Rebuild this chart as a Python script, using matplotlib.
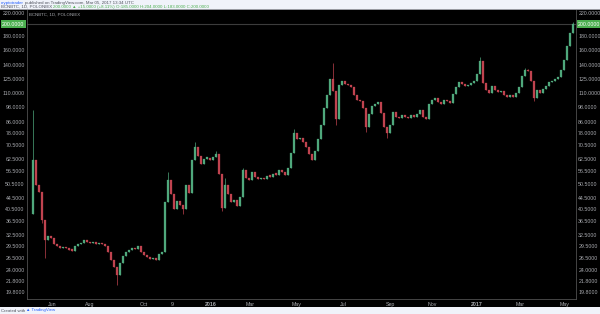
import matplotlib
matplotlib.use("Agg")
import matplotlib.pyplot as plt
from matplotlib.patches import Rectangle
from matplotlib.ticker import NullLocator

plt.rcParams["font.family"] = ["Liberation Sans", "DejaVu Sans"]

# daily-ish closes, one per candle
first_open = 39.0
closes = [
    62, 50, 47, 37, 31, 32, 31.5, 30, 29.5, 29,
    29.3, 29, 28.5, 28.3, 29.5, 30, 30.2, 31, 30.5, 30.2,
    30.4, 30, 30.3, 30, 29.5, 28, 26, 24.5, 23, 25.5,
    27, 28, 28.5, 29, 28.6, 29.5, 28, 27.3, 26.7, 26.3,
    26.6, 26.2, 27.5, 28, 43, 52, 46, 40.5, 43.5, 42,
    40.5, 50, 46.5, 62, 69, 64, 60, 62.5, 63, 62,
    63.5, 65, 55, 41, 50, 46, 43, 44, 41.5, 45,
    57, 53, 52, 56, 53.5, 52.5, 53, 52.5, 54, 53.5,
    55, 54.5, 57, 56, 54.5, 58, 66, 78, 74, 75,
    72, 69, 65, 62, 67, 74, 84, 97, 108, 125,
    112, 88, 118, 122, 119, 118, 116, 108, 104, 103,
    97, 82, 92, 99, 100, 102, 93, 82, 78, 84,
    94, 90, 89, 91, 90, 89, 91, 90, 92, 95,
    90, 88, 100, 104, 106, 102, 100, 104, 103, 101,
    109, 116, 121, 119, 117, 118, 120, 122, 130, 145,
    120, 113, 110, 117, 113, 111, 112, 108, 107, 108,
    107, 110, 116, 128, 134, 133, 122, 106, 113, 110,
    114, 117, 121, 122, 125, 127, 134, 147, 165, 185,
    200,
]
# wick extremes that stick out past the bodies
high_spikes = {0: 95, 1: 57, 45: 56, 54: 72, 61: 67, 64: 53, 70: 58, 87: 81,
               100: 143, 149: 150, 164: 137, 165: 136, 180: 204}
low_spikes = {3: 36, 4: 26.5, 28: 21, 50: 39, 63: 40, 101: 84, 111: 79,
              118: 75, 167: 103}

last_price = 200.0
ytick_vals = [220, 180, 160, 140, 125, 110, 98, 86, 78, 70.5, 62.5, 56.5,
              50.5, 44.5, 40.5, 36.5, 32.5, 29.5, 26.5, 24.0, 21.8, 19.8]
xtick_labels = ["Jun", "Aug", "Oct", "9", "2016", "Mar", "May", "Jul", "Sep",
                "Nov", "2017", "Mar", "May"]
xtick_pos = [6.3, 19, 37, 46.3, 59.3, 72.3, 88, 103.3, 119, 133, 148, 162.3, 177.3]

UP = "#4fa87c"
DOWN = "#c0434f"
TXT = "#a9abb0"


def text_row(fig, renderer, x_px, y_px, parts, size=3.2):
    # lay out differently coloured pieces one after another
    x = x_px / 600
    for s, col in parts:
        t = fig.text(x, 1 - y_px / 314, s, fontsize=size, color=col, va="center")
        bb = t.get_window_extent(renderer)
        x = (bb.x1 + 1.2) / 600


def main() -> None:
    fig = plt.figure(figsize=(6, 3.14), dpi=100, facecolor="#f0f3fa")
    fig.patches.append(Rectangle((0, 7 / 314), 1, 297.5 / 314, transform=fig.transFigure,
                                 facecolor="black", edgecolor="none", zorder=-10))
    fig.patches.append(Rectangle((0, 304.5 / 314), 1, 0.6 / 314, transform=fig.transFigure,
                                 facecolor="#9a9ca3", edgecolor="none", zorder=-9))

    ax = fig.add_axes([27 / 600, 15 / 314, 549 / 600, 289 / 314], facecolor="black")
    ax.set_zorder(5)
    ax.set_yscale("log")
    ax.set_ylim(18.65, 225.8)
    ax.set_xlim(-2, 181)

    opens = [first_open] + closes[:-1]
    for i, (o, c) in enumerate(zip(opens, closes)):
        col = UP if c >= o else DOWN
        hi = high_spikes.get(i, max(o, c))
        lo = low_spikes.get(i, min(o, c))
        ax.vlines(i, lo, hi, color=col, linewidth=0.5, zorder=3)
        ax.bar(i, abs(c - o) if abs(c - o) > 0.01 * c else 0.012 * c,
               bottom=min(o, c), width=0.4, color=col, edgecolor=col,
               linewidth=0.2, zorder=3)

    ax.axhline(last_price, color="#3c3c3c", linewidth=0.8, zorder=2)

    ax.yaxis.set_minor_locator(NullLocator())
    ax.set_yticks(ytick_vals)
    ax.set_yticklabels([f"{v:.4f}" for v in ytick_vals])
    ax.yaxis.set_ticks_position("both")
    ax.tick_params(axis="y", length=0, labelsize=3.8, labelcolor=TXT,
                   labelleft=True, labelright=True, pad=1.6)
    ax.set_xticks(xtick_pos)
    ax.set_xticklabels(xtick_labels)
    ax.tick_params(axis="x", length=0, labelsize=3.8, labelcolor=TXT, pad=2)
    for lab in ax.get_xticklabels():
        if lab.get_text() in ("2016", "2017"):
            lab.set_fontweight("bold")

    for side in ("left", "right", "bottom"):
        ax.spines[side].set_color("#505050")
        ax.spines[side].set_linewidth(0.6)
    ax.spines["top"].set_visible(False)

    # last price boxes on both scales
    box = dict(boxstyle="square,pad=0.25", facecolor="#4caf50", edgecolor="none")
    tr = ax.get_yaxis_transform()
    ax.text(-0.005, last_price, f"{last_price:.4f}", transform=tr, ha="right",
            va="center", fontsize=3.8, color="white", bbox=box, clip_on=False)
    ax.text(1.004, last_price, f"{last_price:.4f}", transform=tr, ha="left",
            va="center", fontsize=3.8, color="white", bbox=box, clip_on=False)

    ax.text(0.003, 0.99, "BCNBTC, 1D, POLONIEX", transform=ax.transAxes,
            fontsize=3.2, color=TXT, va="top", ha="left")

    renderer = fig.canvas.get_renderer()
    text_row(fig, renderer, 1, 2.6, [
        ("cryptotrader", "#2962ff"),
        ("published on TradingView.com, Mar 05, 2017 13:34 UTC", "#50535e"),
    ])
    text_row(fig, renderer, 1, 6.6, [
        ("BCNBTC, 1D, POLONIEX", "#50535e"),
        ("200.0000 \u25b2 +15.0000 (+8.11%)", "#4caf50"),
        ("O:185.0000 H:204.0000 L:183.0000 C:200.0000", "#4caf50"),
    ])
    text_row(fig, renderer, 1, 310.5, [
        ("Created with", "#50535e"),
        ("\u25b2 TradingView", "#2962ff"),
    ])

    fig.savefig("out.png", dpi=100, facecolor=fig.get_facecolor())


if __name__ == "__main__":
    main()
